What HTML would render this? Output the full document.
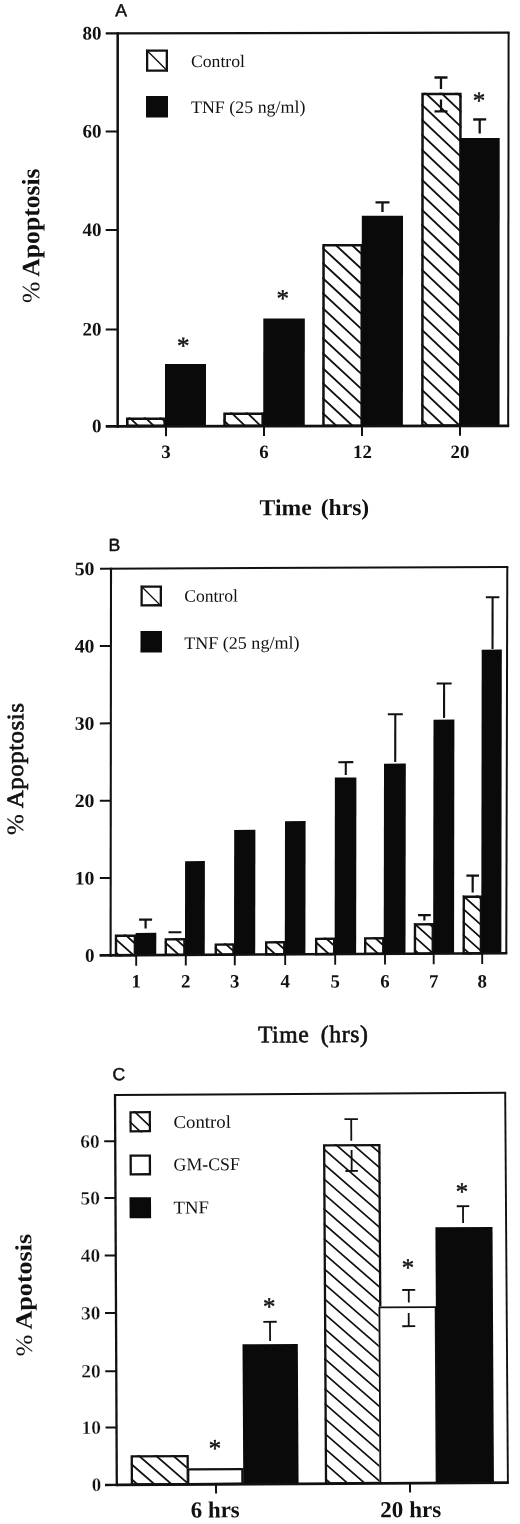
<!DOCTYPE html>
<html><head><meta charset="utf-8"><title>Figure</title>
<style>
html,body{margin:0;padding:0;background:#fff}
body{width:520px;height:1524px;overflow:hidden}
svg{display:block}
text{fill:#111}
</style></head><body>
<svg width="520" height="1524" viewBox="0 0 520 1524">
<rect width="520" height="1524" fill="#fff"/>
<g transform="matrix(1.000000 -0.001700 -0.000500 1.000000 0.1000 0.5000)">
<clipPath id="c1"><rect x="126.11" y="417.21" width="40.00" height="9.69"/></clipPath>
<rect x="126.11" y="417.21" width="40.00" height="9.69" fill="#fff"/>
<path d="M126.11 353.91L166.11 392.31M126.11 368.91L166.11 407.31M126.11 383.91L166.11 422.31M126.11 398.91L166.11 437.31M126.11 413.91L166.11 452.31M126.11 428.91L166.11 467.31" stroke="#111" stroke-width="1.80" fill="none" clip-path="url(#c1)"/>
<rect x="127.41" y="418.51" width="37.40" height="7.09" fill="none" stroke="#111" stroke-width="2.60"/>
<rect x="165.08" y="363.78" width="41.00" height="62.14" fill="#0a0a0a"/>
<clipPath id="c2"><rect x="223.41" y="412.38" width="40.70" height="14.56"/></clipPath>
<rect x="223.41" y="412.38" width="40.70" height="14.56" fill="#fff"/>
<path d="M223.41 344.88L264.11 383.95M223.41 359.88L264.11 398.95M223.41 374.88L264.11 413.95M223.41 389.88L264.11 428.95M223.41 404.88L264.11 443.95M223.41 419.88L264.11 458.95M223.41 434.88L264.11 473.95" stroke="#111" stroke-width="1.80" fill="none" clip-path="url(#c2)"/>
<rect x="224.71" y="413.68" width="38.10" height="11.96" fill="none" stroke="#111" stroke-width="2.60"/>
<rect x="263.36" y="318.45" width="41.50" height="107.51" fill="#0a0a0a"/>
<clipPath id="c3"><rect x="322.32" y="244.05" width="40.70" height="182.94"/></clipPath>
<rect x="322.32" y="244.05" width="40.70" height="182.94" fill="#fff"/>
<path d="M322.32 187.65L363.02 225.50M322.32 202.65L363.02 240.50M322.32 217.65L363.02 255.50M322.32 232.65L363.02 270.50M322.32 247.65L363.02 285.50M322.32 262.65L363.02 300.50M322.32 277.65L363.02 315.50M322.32 292.65L363.02 330.50M322.32 307.65L363.02 345.50M322.32 322.65L363.02 360.50M322.32 337.65L363.02 375.50M322.32 352.65L363.02 390.50M322.32 367.65L363.02 405.50M322.32 382.65L363.02 420.50M322.32 397.65L363.02 435.50M322.32 412.65L363.02 450.50M322.32 427.65L363.02 465.50" stroke="#111" stroke-width="1.90" fill="none" clip-path="url(#c3)"/>
<rect x="323.57" y="245.30" width="38.20" height="180.44" fill="none" stroke="#111" stroke-width="2.50"/>
<rect x="361.81" y="215.92" width="41.20" height="210.09" fill="#0a0a0a"/>
<clipPath id="c4"><rect x="421.25" y="93.02" width="40.40" height="334.01"/></clipPath>
<rect x="421.25" y="93.02" width="40.40" height="334.01" fill="#fff"/>
<path d="M421.25 29.32L461.65 67.70M421.25 44.32L461.65 82.70M421.25 59.32L461.65 97.70M421.25 74.32L461.65 112.70M421.25 89.32L461.65 127.70M421.25 104.32L461.65 142.70M421.25 119.32L461.65 157.70M421.25 134.32L461.65 172.70M421.25 149.32L461.65 187.70M421.25 164.32L461.65 202.70M421.25 179.32L461.65 217.70M421.25 194.32L461.65 232.70M421.25 209.32L461.65 247.70M421.25 224.32L461.65 262.70M421.25 239.32L461.65 277.70M421.25 254.32L461.65 292.70M421.25 269.32L461.65 307.70M421.25 284.32L461.65 322.70M421.25 299.32L461.65 337.70M421.25 314.32L461.65 352.70M421.25 329.32L461.65 367.70M421.25 344.32L461.65 382.70M421.25 359.32L461.65 397.70M421.25 374.32L461.65 412.70M421.25 389.32L461.65 427.70M421.25 404.32L461.65 442.70M421.25 419.32L461.65 457.70M421.25 434.32L461.65 472.70" stroke="#111" stroke-width="1.90" fill="none" clip-path="url(#c4)"/>
<rect x="422.50" y="94.27" width="37.90" height="331.51" fill="none" stroke="#111" stroke-width="2.50"/>
<rect x="460.47" y="138.28" width="39.20" height="287.76" fill="#0a0a0a"/>
<line x1="382.50" y1="202.45" x2="382.50" y2="212.15" stroke="#111" stroke-width="2.30"/>
<line x1="375.50" y1="202.44" x2="389.50" y2="202.44" stroke="#111" stroke-width="2.30"/>
<line x1="440.94" y1="77.75" x2="440.94" y2="89.25" stroke="#111" stroke-width="2.30"/>
<line x1="434.44" y1="77.74" x2="447.44" y2="77.74" stroke="#111" stroke-width="2.30"/>
<line x1="440.96" y1="111.65" x2="440.96" y2="99.85" stroke="#111" stroke-width="2.30"/>
<line x1="434.46" y1="111.64" x2="447.46" y2="111.64" stroke="#111" stroke-width="2.30"/>
<line x1="479.66" y1="119.82" x2="479.66" y2="133.82" stroke="#111" stroke-width="2.30"/>
<line x1="473.16" y1="119.80" x2="486.16" y2="119.80" stroke="#111" stroke-width="2.30"/>
<line x1="117.62" y1="32.05" x2="117.81" y2="427.40" stroke="#111" stroke-width="2.50"/>
<line x1="105.81" y1="425.98" x2="509.31" y2="426.17" stroke="#111" stroke-width="2.80"/>
<line x1="105.62" y1="33.08" x2="509.52" y2="32.97" stroke="#111" stroke-width="2.10"/>
<line x1="508.52" y1="32.96" x2="508.31" y2="426.16" stroke="#111" stroke-width="2.00"/>
<line x1="105.76" y1="329.08" x2="117.76" y2="329.08" stroke="#111" stroke-width="2.00"/>
<line x1="105.71" y1="229.68" x2="117.71" y2="229.68" stroke="#111" stroke-width="2.00"/>
<line x1="105.67" y1="131.18" x2="117.67" y2="131.18" stroke="#111" stroke-width="2.00"/>
<line x1="166.11" y1="425.92" x2="166.11" y2="435.92" stroke="#111" stroke-width="2.00"/>
<line x1="264.11" y1="425.96" x2="264.11" y2="435.96" stroke="#111" stroke-width="2.00"/>
<line x1="362.11" y1="426.00" x2="362.11" y2="436.00" stroke="#111" stroke-width="2.00"/>
<line x1="460.11" y1="426.04" x2="460.11" y2="436.04" stroke="#111" stroke-width="2.00"/>
<text x="101.72" y="431.87" font-size="19.00" text-anchor="end" font-family='"Liberation Serif", serif' font-weight="bold">0</text>
<text x="101.67" y="335.07" font-size="19.00" text-anchor="end" font-family='"Liberation Serif", serif' font-weight="bold">20</text>
<text x="101.62" y="235.67" font-size="19.00" text-anchor="end" font-family='"Liberation Serif", serif' font-weight="bold">40</text>
<text x="101.57" y="137.17" font-size="19.00" text-anchor="end" font-family='"Liberation Serif", serif' font-weight="bold">60</text>
<text x="101.52" y="39.07" font-size="19.00" text-anchor="end" font-family='"Liberation Serif", serif' font-weight="bold">80</text>
<text x="166.13" y="457.78" font-size="18.80" text-anchor="middle" font-family='"Liberation Serif", serif' font-weight="bold">3</text>
<text x="264.13" y="457.95" font-size="18.80" text-anchor="middle" font-family='"Liberation Serif", serif' font-weight="bold">6</text>
<text x="362.63" y="458.12" font-size="18.80" text-anchor="middle" font-family='"Liberation Serif", serif' font-weight="bold">12</text>
<text x="460.13" y="458.28" font-size="18.80" text-anchor="middle" font-family='"Liberation Serif", serif' font-weight="bold">20</text>
<text x="115.21" y="15.90" font-size="17.60" text-anchor="start" font-family='"Liberation Sans", sans-serif' font-weight="normal" stroke="#111" stroke-width="0.5">A</text>
<text x="259.76" y="515.14" font-size="23.00" text-anchor="start" font-family='"Liberation Serif", serif' font-weight="bold" textLength="109.60" lengthAdjust="spacingAndGlyphs" word-spacing="3">Time (hrs)</text>
<text x="39.35" y="302.57" font-size="25.00" text-anchor="start" font-family='"Liberation Serif", serif' font-weight="bold" textLength="134.60" lengthAdjust="spacingAndGlyphs" transform="rotate(-90 39.35 302.57)"><tspan font-weight="normal">%</tspan> Apoptosis</text>
<clipPath id="c5"><rect x="145.92" y="49.25" width="22.00" height="22.30"/></clipPath>
<rect x="145.92" y="49.25" width="22.00" height="22.30" fill="#fff"/>
<path d="M145.92 -30.75L167.92 -8.75M145.92 9.25L167.92 31.25M145.92 49.25L167.92 71.25M145.92 89.25L167.92 111.25" stroke="#111" stroke-width="1.30" fill="none" clip-path="url(#c5)"/>
<rect x="147.07" y="50.40" width="19.70" height="20.00" fill="none" stroke="#111" stroke-width="2.30"/>
<rect x="145.95" y="95.75" width="22.00" height="21.50" fill="#0a0a0a"/>
<text x="190.93" y="66.82" font-size="17.50" text-anchor="start" font-family='"Liberation Serif", serif' font-weight="normal" textLength="54.00" lengthAdjust="spacingAndGlyphs">Control</text>
<text x="190.96" y="112.82" font-size="17.50" text-anchor="start" font-family='"Liberation Serif", serif' font-weight="normal" textLength="114.40" lengthAdjust="spacingAndGlyphs">TNF (25 ng/ml)</text>
<text x="183.38" y="353.76" font-size="25.00" text-anchor="middle" font-family='"Liberation Serif", serif' font-weight="normal" stroke="#111" stroke-width="0.45">*</text>
<text x="282.75" y="306.53" font-size="25.00" text-anchor="middle" font-family='"Liberation Serif", serif' font-weight="normal" stroke="#111" stroke-width="0.45">*</text>
<text x="478.95" y="109.06" font-size="25.00" text-anchor="middle" font-family='"Liberation Serif", serif' font-weight="normal" stroke="#111" stroke-width="0.45">*</text>
</g>
<g transform="matrix(1.000000 -0.004800 -0.001500 1.000000 1.1000 1.5000)">
<clipPath id="c6"><rect x="115.10" y="933.65" width="21.30" height="21.78"/></clipPath>
<rect x="115.10" y="933.65" width="21.30" height="21.78" fill="#fff"/>
<path d="M115.10 898.45L136.40 917.62M115.10 911.45L136.40 930.62M115.10 924.45L136.40 943.62M115.10 937.45L136.40 956.62M115.10 950.45L136.40 969.62M115.10 963.45L136.40 982.62" stroke="#111" stroke-width="1.80" fill="none" clip-path="url(#c6)"/>
<rect x="116.30" y="934.85" width="18.90" height="19.38" fill="none" stroke="#111" stroke-width="2.40"/>
<rect x="135.90" y="932.05" width="20.70" height="22.37" fill="#0a0a0a"/>
<clipPath id="c7"><rect x="164.91" y="937.49" width="21.00" height="17.92"/></clipPath>
<rect x="164.91" y="937.49" width="21.00" height="17.92" fill="#fff"/>
<path d="M164.91 902.29L185.91 921.19M164.91 915.29L185.91 934.19M164.91 928.29L185.91 947.19M164.91 941.29L185.91 960.19M164.91 954.29L185.91 973.19M164.91 967.29L185.91 986.19" stroke="#111" stroke-width="1.80" fill="none" clip-path="url(#c7)"/>
<rect x="166.11" y="938.69" width="18.60" height="15.52" fill="none" stroke="#111" stroke-width="2.40"/>
<rect x="185.29" y="860.59" width="19.80" height="93.81" fill="#0a0a0a"/>
<clipPath id="c8"><rect x="214.91" y="942.93" width="20.10" height="12.45"/></clipPath>
<rect x="214.91" y="942.93" width="20.10" height="12.45" fill="#fff"/>
<path d="M214.91 907.73L235.01 925.82M214.91 920.73L235.01 938.82M214.91 933.73L235.01 951.82M214.91 946.73L235.01 964.82M214.91 959.73L235.01 977.82" stroke="#111" stroke-width="1.80" fill="none" clip-path="url(#c8)"/>
<rect x="216.11" y="944.13" width="17.70" height="10.05" fill="none" stroke="#111" stroke-width="2.40"/>
<rect x="234.34" y="829.52" width="21.20" height="124.85" fill="#0a0a0a"/>
<clipPath id="c9"><rect x="265.31" y="940.97" width="20.50" height="14.38"/></clipPath>
<rect x="265.31" y="940.97" width="20.50" height="14.38" fill="#fff"/>
<path d="M265.31 905.77L285.81 924.22M265.31 918.77L285.81 937.22M265.31 931.77L285.81 950.22M265.31 944.77L285.81 963.22M265.31 957.77L285.81 976.22" stroke="#111" stroke-width="1.80" fill="none" clip-path="url(#c9)"/>
<rect x="266.51" y="942.17" width="18.10" height="11.98" fill="none" stroke="#111" stroke-width="2.40"/>
<rect x="285.13" y="821.07" width="20.60" height="133.28" fill="#0a0a0a"/>
<clipPath id="c10"><rect x="315.31" y="937.71" width="20.40" height="17.62"/></clipPath>
<rect x="315.31" y="937.71" width="20.40" height="17.62" fill="#fff"/>
<path d="M315.31 902.51L335.71 920.87M315.31 915.51L335.71 933.87M315.31 928.51L335.71 946.87M315.31 941.51L335.71 959.87M315.31 954.51L335.71 972.87M315.31 967.51L335.71 985.87" stroke="#111" stroke-width="1.80" fill="none" clip-path="url(#c10)"/>
<rect x="316.51" y="938.91" width="18.00" height="15.22" fill="none" stroke="#111" stroke-width="2.40"/>
<rect x="334.97" y="777.71" width="21.50" height="176.61" fill="#0a0a0a"/>
<clipPath id="c11"><rect x="364.31" y="937.45" width="20.50" height="17.86"/></clipPath>
<rect x="364.31" y="937.45" width="20.50" height="17.86" fill="#fff"/>
<path d="M364.31 902.25L384.81 920.70M364.31 915.25L384.81 933.70M364.31 928.25L384.81 946.70M364.31 941.25L384.81 959.70M364.31 954.25L384.81 972.70M364.31 967.25L384.81 985.70" stroke="#111" stroke-width="1.80" fill="none" clip-path="url(#c11)"/>
<rect x="365.51" y="938.65" width="18.10" height="15.46" fill="none" stroke="#111" stroke-width="2.40"/>
<rect x="384.05" y="764.04" width="21.80" height="190.25" fill="#0a0a0a"/>
<clipPath id="c12"><rect x="414.09" y="923.69" width="20.20" height="31.60"/></clipPath>
<rect x="414.09" y="923.69" width="20.20" height="31.60" fill="#fff"/>
<path d="M414.09 884.59L434.29 902.77M414.09 897.59L434.29 915.77M414.09 910.59L434.29 928.77M414.09 923.59L434.29 941.77M414.09 936.59L434.29 954.77M414.09 949.59L434.29 967.77M414.09 962.59L434.29 980.77" stroke="#111" stroke-width="1.80" fill="none" clip-path="url(#c12)"/>
<rect x="415.29" y="924.89" width="17.80" height="29.20" fill="none" stroke="#111" stroke-width="2.40"/>
<rect x="433.48" y="720.28" width="20.90" height="233.99" fill="#0a0a0a"/>
<clipPath id="c13"><rect x="462.84" y="896.32" width="19.60" height="58.94"/></clipPath>
<rect x="462.84" y="896.32" width="19.60" height="58.94" fill="#fff"/>
<path d="M462.84 857.02L482.44 874.66M462.84 870.02L482.44 887.66M462.84 883.02L482.44 900.66M462.84 896.02L482.44 913.66M462.84 909.02L482.44 926.66M462.84 922.02L482.44 939.66M462.84 935.02L482.44 952.66M462.84 948.02L482.44 965.66M462.84 961.02L482.44 978.66" stroke="#111" stroke-width="1.80" fill="none" clip-path="url(#c13)"/>
<rect x="464.04" y="897.52" width="17.20" height="56.54" fill="none" stroke="#111" stroke-width="2.40"/>
<rect x="481.58" y="650.51" width="20.10" height="303.74" fill="#0a0a0a"/>
<line x1="145.88" y1="918.90" x2="145.88" y2="927.70" stroke="#111" stroke-width="2.20"/>
<line x1="139.38" y1="918.87" x2="152.38" y2="918.87" stroke="#111" stroke-width="2.20"/>
<line x1="168.80" y1="931.61" x2="181.70" y2="931.61" stroke="#111" stroke-width="2.00"/>
<line x1="345.84" y1="762.36" x2="345.84" y2="775.16" stroke="#111" stroke-width="2.10"/>
<line x1="338.34" y1="762.32" x2="353.34" y2="762.32" stroke="#111" stroke-width="2.10"/>
<line x1="395.27" y1="714.70" x2="395.27" y2="762.40" stroke="#111" stroke-width="2.10"/>
<line x1="387.77" y1="714.66" x2="402.77" y2="714.66" stroke="#111" stroke-width="2.10"/>
<line x1="444.03" y1="684.13" x2="444.03" y2="718.63" stroke="#111" stroke-width="2.10"/>
<line x1="436.53" y1="684.10" x2="451.53" y2="684.10" stroke="#111" stroke-width="2.10"/>
<line x1="492.40" y1="598.16" x2="492.40" y2="649.86" stroke="#111" stroke-width="2.10"/>
<line x1="485.65" y1="598.13" x2="499.15" y2="598.13" stroke="#111" stroke-width="2.10"/>
<line x1="424.67" y1="915.64" x2="424.67" y2="921.14" stroke="#111" stroke-width="2.20"/>
<line x1="418.32" y1="915.61" x2="431.02" y2="915.61" stroke="#111" stroke-width="2.20"/>
<line x1="472.91" y1="876.37" x2="472.91" y2="893.27" stroke="#111" stroke-width="2.20"/>
<line x1="466.61" y1="876.34" x2="479.21" y2="876.34" stroke="#111" stroke-width="2.20"/>
<line x1="110.75" y1="566.68" x2="110.93" y2="955.73" stroke="#111" stroke-width="2.10"/>
<line x1="99.93" y1="954.38" x2="507.63" y2="954.14" stroke="#111" stroke-width="2.60"/>
<line x1="99.75" y1="567.68" x2="508.05" y2="567.94" stroke="#111" stroke-width="2.10"/>
<line x1="507.05" y1="567.93" x2="506.63" y2="954.13" stroke="#111" stroke-width="2.00"/>
<line x1="100.02" y1="877.05" x2="111.02" y2="877.05" stroke="#111" stroke-width="2.00"/>
<line x1="99.90" y1="799.72" x2="110.90" y2="799.72" stroke="#111" stroke-width="2.00"/>
<line x1="99.78" y1="722.39" x2="110.78" y2="722.39" stroke="#111" stroke-width="2.00"/>
<line x1="99.67" y1="645.06" x2="110.67" y2="645.06" stroke="#111" stroke-width="2.00"/>
<line x1="136.53" y1="954.42" x2="136.53" y2="964.92" stroke="#111" stroke-width="1.90"/>
<text x="136.58" y="986.66" font-size="18.80" text-anchor="middle" font-family='"Liberation Serif", serif' font-weight="bold">1</text>
<line x1="186.13" y1="954.40" x2="186.13" y2="964.90" stroke="#111" stroke-width="1.90"/>
<text x="186.18" y="986.89" font-size="18.80" text-anchor="middle" font-family='"Liberation Serif", serif' font-weight="bold">2</text>
<line x1="235.13" y1="954.37" x2="235.13" y2="964.87" stroke="#111" stroke-width="1.90"/>
<text x="235.18" y="987.13" font-size="18.80" text-anchor="middle" font-family='"Liberation Serif", serif' font-weight="bold">3</text>
<line x1="285.53" y1="954.35" x2="285.53" y2="964.85" stroke="#111" stroke-width="1.90"/>
<text x="285.58" y="987.37" font-size="18.80" text-anchor="middle" font-family='"Liberation Serif", serif' font-weight="bold">4</text>
<line x1="335.53" y1="954.32" x2="335.53" y2="964.82" stroke="#111" stroke-width="1.90"/>
<text x="335.58" y="987.61" font-size="18.80" text-anchor="middle" font-family='"Liberation Serif", serif' font-weight="bold">5</text>
<line x1="385.33" y1="954.30" x2="385.33" y2="964.80" stroke="#111" stroke-width="1.90"/>
<text x="385.38" y="987.85" font-size="18.80" text-anchor="middle" font-family='"Liberation Serif", serif' font-weight="bold">6</text>
<line x1="434.03" y1="954.27" x2="434.03" y2="964.77" stroke="#111" stroke-width="1.90"/>
<text x="434.08" y="988.08" font-size="18.80" text-anchor="middle" font-family='"Liberation Serif", serif' font-weight="bold">7</text>
<line x1="482.53" y1="954.25" x2="482.53" y2="964.75" stroke="#111" stroke-width="1.90"/>
<text x="482.58" y="988.32" font-size="18.80" text-anchor="middle" font-family='"Liberation Serif", serif' font-weight="bold">8</text>
<text x="94.84" y="960.66" font-size="19.00" text-anchor="end" font-family='"Liberation Serif", serif' font-weight="bold">0</text>
<text x="94.72" y="883.32" font-size="19.00" text-anchor="end" font-family='"Liberation Serif", serif' font-weight="bold" textLength="19.80" lengthAdjust="spacingAndGlyphs">10</text>
<text x="94.61" y="805.99" font-size="19.00" text-anchor="end" font-family='"Liberation Serif", serif' font-weight="bold" textLength="19.80" lengthAdjust="spacingAndGlyphs">20</text>
<text x="94.49" y="728.66" font-size="19.00" text-anchor="end" font-family='"Liberation Serif", serif' font-weight="bold" textLength="19.80" lengthAdjust="spacingAndGlyphs">30</text>
<text x="94.38" y="651.33" font-size="19.00" text-anchor="end" font-family='"Liberation Serif", serif' font-weight="bold" textLength="19.80" lengthAdjust="spacingAndGlyphs">40</text>
<text x="94.26" y="574.00" font-size="19.00" text-anchor="end" font-family='"Liberation Serif", serif' font-weight="bold" textLength="19.80" lengthAdjust="spacingAndGlyphs">50</text>
<text x="108.33" y="550.02" font-size="17.60" text-anchor="start" font-family='"Liberation Sans", sans-serif' font-weight="normal" stroke="#111" stroke-width="0.5">B</text>
<text x="258.36" y="1042.24" font-size="24.00" text-anchor="start" font-family='"Liberation Serif", serif' font-weight="normal" textLength="110.50" lengthAdjust="spacingAndGlyphs" stroke="#111" stroke-width="0.65" stroke-linejoin="round" word-spacing="5" letter-spacing="0.6">Time (hrs)</text>
<text x="23.15" y="833.61" font-size="23.50" text-anchor="start" font-family='"Liberation Serif", serif' font-weight="normal" textLength="132.50" lengthAdjust="spacingAndGlyphs" transform="rotate(-90 23.15 833.61)" stroke="#111" stroke-width="0.65" stroke-linejoin="round" letter-spacing="0.5"><tspan stroke-width="0.2">%</tspan> Apoptosis</text>
<clipPath id="c14"><rect x="140.28" y="584.67" width="21.50" height="21.00"/></clipPath>
<rect x="140.28" y="584.67" width="21.50" height="21.00" fill="#fff"/>
<path d="M140.28 504.67L161.78 526.17M140.28 544.67L161.78 566.17M140.28 584.67L161.78 606.17M140.28 624.67L161.78 646.17" stroke="#111" stroke-width="1.30" fill="none" clip-path="url(#c14)"/>
<rect x="141.43" y="585.82" width="19.20" height="18.70" fill="none" stroke="#111" stroke-width="2.30"/>
<rect x="140.35" y="630.17" width="21.50" height="21.50" fill="#0a0a0a"/>
<text x="184.00" y="601.18" font-size="17.50" text-anchor="start" font-family='"Liberation Serif", serif' font-weight="normal" textLength="53.70" lengthAdjust="spacingAndGlyphs">Control</text>
<text x="184.07" y="648.38" font-size="17.50" text-anchor="start" font-family='"Liberation Serif", serif' font-weight="normal" textLength="115.30" lengthAdjust="spacingAndGlyphs">TNF (25 ng/ml)</text>
</g>
<g transform="matrix(0.999984 -0.005585 0.005585 0.999984 -7.1998 1.7515)">
<clipPath id="c15"><rect x="129.68" y="1454.20" width="58.20" height="30.32"/></clipPath>
<rect x="129.68" y="1454.20" width="58.20" height="30.32" fill="#fff"/>
<path d="M129.68 1387.50L187.88 1438.71M129.68 1402.50L187.88 1453.71M129.68 1417.50L187.88 1468.71M129.68 1432.50L187.88 1483.71M129.68 1447.50L187.88 1498.71M129.68 1462.50L187.88 1513.71M129.68 1477.50L187.88 1528.71M129.68 1492.50L187.88 1543.71" stroke="#111" stroke-width="1.80" fill="none" clip-path="url(#c15)"/>
<rect x="130.83" y="1455.35" width="55.90" height="28.02" fill="none" stroke="#111" stroke-width="2.30"/>
<clipPath id="c16"><rect x="186.01" y="1467.51" width="56.50" height="17.01"/></clipPath>
<rect x="186.01" y="1467.51" width="56.50" height="17.01" fill="#fff"/>
<rect x="187.16" y="1468.66" width="54.20" height="14.71" fill="none" stroke="#111" stroke-width="2.30"/>
<rect x="242.20" y="1343.92" width="55.30" height="139.60" fill="#0a0a0a"/>
<clipPath id="c17"><rect x="323.81" y="1144.37" width="57.50" height="340.15"/></clipPath>
<rect x="323.81" y="1144.37" width="57.50" height="340.15" fill="#fff"/>
<path d="M323.81 1073.47L381.31 1124.07M323.81 1088.47L381.31 1139.07M323.81 1103.47L381.31 1154.07M323.81 1118.47L381.31 1169.07M323.81 1133.47L381.31 1184.07M323.81 1148.47L381.31 1199.07M323.81 1163.47L381.31 1214.07M323.81 1178.47L381.31 1229.07M323.81 1193.47L381.31 1244.07M323.81 1208.47L381.31 1259.07M323.81 1223.47L381.31 1274.07M323.81 1238.47L381.31 1289.07M323.81 1253.47L381.31 1304.07M323.81 1268.47L381.31 1319.07M323.81 1283.47L381.31 1334.07M323.81 1298.47L381.31 1349.07M323.81 1313.47L381.31 1364.07M323.81 1328.47L381.31 1379.07M323.81 1343.47L381.31 1394.07M323.81 1358.47L381.31 1409.07M323.81 1373.47L381.31 1424.07M323.81 1388.47L381.31 1439.07M323.81 1403.47L381.31 1454.07M323.81 1418.47L381.31 1469.07M323.81 1433.47L381.31 1484.07M323.81 1448.47L381.31 1499.07M323.81 1463.47L381.31 1514.07M323.81 1478.47L381.31 1529.07M323.81 1493.47L381.31 1544.07" stroke="#111" stroke-width="1.70" fill="none" clip-path="url(#c17)"/>
<rect x="324.96" y="1145.52" width="55.20" height="337.85" fill="none" stroke="#111" stroke-width="2.30"/>
<clipPath id="c18"><rect x="378.41" y="1306.88" width="58.00" height="177.63"/></clipPath>
<rect x="378.41" y="1306.88" width="58.00" height="177.63" fill="#fff"/>
<rect x="379.31" y="1307.78" width="56.20" height="175.83" fill="none" stroke="#111" stroke-width="1.80"/>
<rect x="435.75" y="1227.90" width="57.10" height="255.62" fill="#0a0a0a"/>
<line x1="269.82" y1="1321.58" x2="269.82" y2="1340.78" stroke="#111" stroke-width="1.80"/>
<line x1="263.12" y1="1321.54" x2="276.52" y2="1321.54" stroke="#111" stroke-width="1.80"/>
<line x1="352.15" y1="1119.33" x2="352.15" y2="1140.93" stroke="#111" stroke-width="1.80"/>
<line x1="345.40" y1="1119.30" x2="358.90" y2="1119.30" stroke="#111" stroke-width="1.80"/>
<line x1="352.36" y1="1171.23" x2="352.36" y2="1150.23" stroke="#111" stroke-width="1.80"/>
<line x1="346.11" y1="1171.20" x2="358.61" y2="1171.20" stroke="#111" stroke-width="1.80"/>
<line x1="408.75" y1="1290.55" x2="408.75" y2="1303.05" stroke="#111" stroke-width="1.80"/>
<line x1="402.25" y1="1290.52" x2="415.25" y2="1290.52" stroke="#111" stroke-width="1.80"/>
<line x1="408.55" y1="1326.80" x2="408.55" y2="1313.55" stroke="#111" stroke-width="1.80"/>
<line x1="402.05" y1="1326.76" x2="415.05" y2="1326.76" stroke="#111" stroke-width="1.80"/>
<line x1="463.47" y1="1207.11" x2="463.47" y2="1223.86" stroke="#111" stroke-width="1.80"/>
<line x1="457.22" y1="1207.07" x2="469.72" y2="1207.07" stroke="#111" stroke-width="1.80"/>
<line x1="116.10" y1="1092.91" x2="115.71" y2="1485.17" stroke="#111" stroke-width="2.30"/>
<line x1="115.71" y1="1483.82" x2="507.77" y2="1483.81" stroke="#111" stroke-width="2.70"/>
<line x1="116.09" y1="1093.91" x2="507.25" y2="1093.90" stroke="#111" stroke-width="2.00"/>
<line x1="506.30" y1="1093.89" x2="506.82" y2="1483.80" stroke="#111" stroke-width="1.90"/>
<line x1="103.91" y1="1483.85" x2="115.91" y2="1483.75" stroke="#111" stroke-width="2.40"/>
<line x1="104.76" y1="1426.36" x2="115.76" y2="1426.36" stroke="#111" stroke-width="2.00"/>
<text x="100.23" y="1432.63" font-size="19.00" text-anchor="end" font-family='"Liberation Serif", serif' font-weight="bold" textLength="19.50" lengthAdjust="spacingAndGlyphs" stroke="#fff" stroke-width="0.3">10</text>
<line x1="104.82" y1="1370.06" x2="115.82" y2="1370.06" stroke="#111" stroke-width="2.00"/>
<text x="100.29" y="1376.33" font-size="19.00" text-anchor="end" font-family='"Liberation Serif", serif' font-weight="bold" textLength="19.50" lengthAdjust="spacingAndGlyphs" stroke="#fff" stroke-width="0.3">20</text>
<line x1="104.88" y1="1311.85" x2="115.88" y2="1311.85" stroke="#111" stroke-width="2.00"/>
<text x="100.34" y="1318.13" font-size="19.00" text-anchor="end" font-family='"Liberation Serif", serif' font-weight="bold" textLength="19.50" lengthAdjust="spacingAndGlyphs" stroke="#fff" stroke-width="0.3">30</text>
<line x1="104.93" y1="1254.35" x2="115.93" y2="1254.35" stroke="#111" stroke-width="2.00"/>
<text x="100.40" y="1260.63" font-size="19.00" text-anchor="end" font-family='"Liberation Serif", serif' font-weight="bold" textLength="19.50" lengthAdjust="spacingAndGlyphs" stroke="#fff" stroke-width="0.3">40</text>
<line x1="104.99" y1="1196.85" x2="115.99" y2="1196.85" stroke="#111" stroke-width="2.00"/>
<text x="100.46" y="1203.13" font-size="19.00" text-anchor="end" font-family='"Liberation Serif", serif' font-weight="bold" textLength="19.50" lengthAdjust="spacingAndGlyphs" stroke="#fff" stroke-width="0.3">50</text>
<line x1="105.05" y1="1140.15" x2="116.05" y2="1140.15" stroke="#111" stroke-width="2.00"/>
<text x="100.51" y="1146.43" font-size="19.00" text-anchor="end" font-family='"Liberation Serif", serif' font-weight="bold" textLength="19.50" lengthAdjust="spacingAndGlyphs" stroke="#fff" stroke-width="0.3">60</text>
<text x="100.18" y="1489.73" font-size="19.00" text-anchor="end" font-family='"Liberation Serif", serif' font-weight="bold" stroke="#fff" stroke-width="0.3">0</text>
<line x1="214.92" y1="1483.52" x2="214.92" y2="1493.02" stroke="#111" stroke-width="2.00"/>
<line x1="408.92" y1="1483.51" x2="408.92" y2="1493.01" stroke="#111" stroke-width="2.00"/>
<text x="189.53" y="1516.83" font-size="23.00" text-anchor="start" font-family='"Liberation Serif", serif' font-weight="bold" textLength="49.00" lengthAdjust="spacingAndGlyphs">6 hrs</text>
<text x="379.03" y="1517.69" font-size="23.00" text-anchor="start" font-family='"Liberation Serif", serif' font-weight="bold" textLength="61.00" lengthAdjust="spacingAndGlyphs">20 hrs</text>
<text x="113.77" y="1079.10" font-size="17.60" text-anchor="start" font-family='"Liberation Sans", sans-serif' font-weight="normal" stroke="#111" stroke-width="0.5">C</text>
<text x="31.63" y="1354.75" font-size="23.50" text-anchor="start" font-family='"Liberation Serif", serif' font-weight="bold" textLength="122.50" lengthAdjust="spacingAndGlyphs" transform="rotate(-90 31.63 1354.75)"><tspan font-weight="normal">%</tspan> Apotosis</text>
<clipPath id="c19"><rect x="130.40" y="1110.19" width="21.50" height="21.20"/></clipPath>
<rect x="130.40" y="1110.19" width="21.50" height="21.20" fill="#fff"/>
<path d="M130.40 1062.29L151.90 1082.93M130.40 1076.79L151.90 1097.43M130.40 1091.29L151.90 1111.93M130.40 1105.79L151.90 1126.43M130.40 1120.29L151.90 1140.93M130.40 1134.79L151.90 1155.43" stroke="#111" stroke-width="1.60" fill="none" clip-path="url(#c19)"/>
<rect x="131.50" y="1111.29" width="19.30" height="19.00" fill="none" stroke="#111" stroke-width="2.20"/>
<clipPath id="c20"><rect x="130.26" y="1153.49" width="21.50" height="21.00"/></clipPath>
<rect x="130.26" y="1153.49" width="21.50" height="21.00" fill="#fff"/>
<rect x="131.41" y="1154.64" width="19.20" height="18.70" fill="none" stroke="#111" stroke-width="2.30"/>
<rect x="130.02" y="1196.29" width="21.50" height="21.00" fill="#0a0a0a"/>
<text x="174.41" y="1127.24" font-size="18.00" text-anchor="start" font-family='"Liberation Serif", serif' font-weight="normal" textLength="57.50" lengthAdjust="spacingAndGlyphs">Control</text>
<text x="174.17" y="1169.64" font-size="18.00" text-anchor="start" font-family='"Liberation Serif", serif' font-weight="normal" textLength="66.50" lengthAdjust="spacingAndGlyphs">GM-CSF</text>
<text x="173.93" y="1212.74" font-size="18.00" text-anchor="start" font-family='"Liberation Serif", serif' font-weight="normal" textLength="35.50" lengthAdjust="spacingAndGlyphs">TNF</text>
<text x="214.07" y="1456.02" font-size="25.00" text-anchor="middle" font-family='"Liberation Serif", serif' font-weight="normal" stroke="#111" stroke-width="0.45">*</text>
<text x="407.98" y="1276.30" font-size="25.00" text-anchor="middle" font-family='"Liberation Serif", serif' font-weight="normal" stroke="#111" stroke-width="0.45">*</text>
<text x="462.50" y="1200.60" font-size="25.00" text-anchor="middle" font-family='"Liberation Serif", serif' font-weight="normal" stroke="#111" stroke-width="0.45">*</text>
<text x="269.06" y="1314.52" font-size="25.00" text-anchor="middle" font-family='"Liberation Serif", serif' font-weight="normal" stroke="#111" stroke-width="0.45">*</text>
</g>
</svg>
</body></html>
